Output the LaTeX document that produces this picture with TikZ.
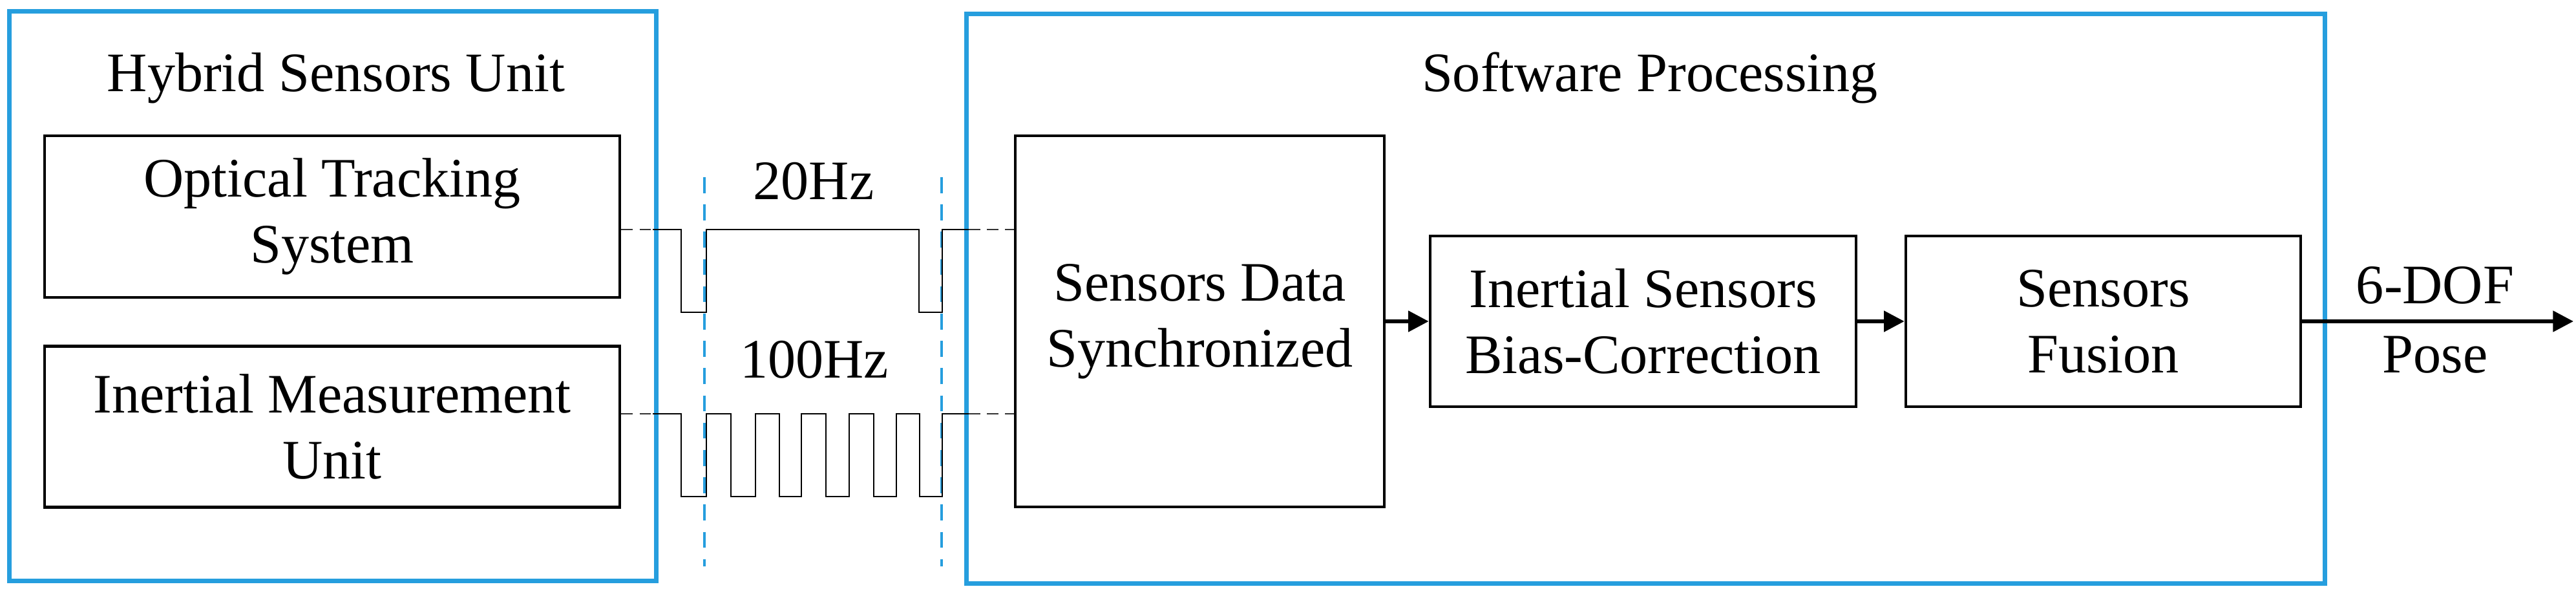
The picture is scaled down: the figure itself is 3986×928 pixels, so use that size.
\documentclass[tikz,border=0pt]{standalone}
\usepackage{fontspec}
\setmainfont{Liberation Serif}
\newfontfamily\tmsfont{Liberation Serif}
\usetikzlibrary{arrows.meta}
\definecolor{frameblue}{RGB}{38,158,222}
\begin{document}
\begin{tikzpicture}[x=0.01cm,y=-0.01cm,
  font=\tmsfont\fontsize{24.5}{29}\selectfont,
  group/.style={draw=frameblue,line width=2pt},
  blk/.style={draw=black,line width=1.2pt,align=center,inner sep=0pt},
  sig/.style={draw=black,line width=0.6pt},
  lead/.style={draw=black!80,line width=0.6pt,dash pattern=on 5pt off 3pt},
  sep/.style={draw=frameblue,line width=0.9pt,dash pattern=on 7pt off 5pt},
  flow/.style={draw=black,line width=1.7pt,-{Triangle[length=9pt,width=9pt]}},
  lbl/.style={inner sep=0pt,anchor=base}]
\useasboundingbox (0,0) rectangle (3986,928);
% group frames
\node[group,minimum width=10cm,minimum height=8.8cm] (hsu) at (515,458) {};
\node[group,minimum width=21.01cm,minimum height=8.8cm] (sp) at (2546.5,462) {};
\node[lbl] (t1) at (520,142) {Hybrid Sensors Unit};
\node[lbl] (t2) at (2553,142) {Software Processing};
% blocks
\node[blk,minimum width=8.9cm,minimum height=2.5cm] (ots) at (514,335) {Optical Tracking\\System};
\node[blk,minimum width=8.9cm,minimum height=2.49cm] (imu) at (514,660) {Inertial Measurement\\Unit};
\node[blk,minimum width=5.71cm,minimum height=5.74cm] (sync) at (1856.5,497) {Sensors Data\\Synchronized};
\node[blk,minimum width=6.59cm,minimum height=2.64cm] (bias) at (2542.5,497) {Inertial Sensors\\Bias-Correction};
\node[blk,minimum width=6.11cm,minimum height=2.64cm] (fus) at (3254.5,497) {Sensors\\Fusion};
\coordinate (out) at (3982,497);
% separators
\coordinate (s1a) at (1090,274); \coordinate (s1b) at (1090,876);
\coordinate (s2a) at (1457,274); \coordinate (s2b) at (1457,876);
\draw[sep] (s1a) -- (s1b);
\draw[sep] (s2a) -- (s2b);
% signals
\coordinate (a1) at (1010,355); \coordinate (a2) at (1499,355);
\coordinate (b1) at (1010,640); \coordinate (b2) at (1499,640);
\draw[lead] (ots.east |- a1) -- (a1);
\draw[lead] (a2) -- (sync.west |- a2);
\draw[lead] (imu.east |- b1) -- (b1);
\draw[lead] (b2) -- (sync.west |- b2);
\draw[sig] (a1) -- (1054,355) -- (1054,483) -- (1093,483) -- (1093,355) -- (1422,355) -- (1422,483) -- (1458,483) -- (1458,355) -- (a2);
\draw[sig] (b1) -- (1054,640) -- (1054,768) -- (1093,768) -- (1093,640) -- (1131,640) -- (1131,768) -- (1169,768) -- (1169,640)
  -- (1206,640) -- (1206,768) -- (1240,768) -- (1240,640) -- (1278,640) -- (1278,768) -- (1314,768) -- (1314,640)
  -- (1352,640) -- (1352,768) -- (1387,768) -- (1387,640) -- (1423,640) -- (1423,768) -- (1458,768) -- (1458,640) -- (b2);
\node[lbl] (f1) at (1259,309) {20Hz};
\node[lbl] (f2) at (1260,585) {100Hz};
% flow
\draw[flow] (sync) -- (bias);
\draw[flow] (bias) -- (fus);
\draw[flow] (fus) -- (out);
\node[lbl] (o1) at (3768,470) {6-DOF};
\node[lbl] (o2) at (3768,577) {Pose};
\end{tikzpicture}
\end{document}
